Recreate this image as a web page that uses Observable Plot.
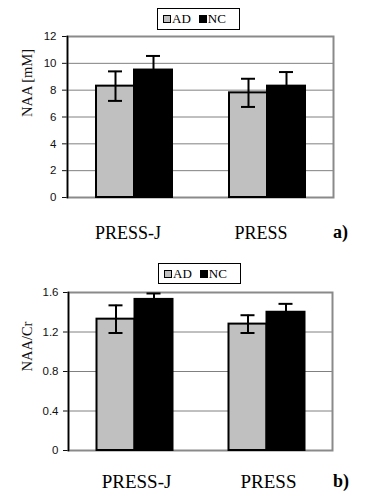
<!DOCTYPE html>
<html>
<head>
<meta charset="utf-8">
<script src="https://cdn.jsdelivr.net/npm/d3@7"></script>
<script src="https://cdn.jsdelivr.net/npm/@observablehq/plot@0.6"></script>
<style>
  body { margin: 0; background: #fff; }
  #wrap { position: relative; width: 372px; height: 496px; background: #fff; overflow: hidden; }
  .legend { position: absolute; box-sizing: border-box; border: 1px solid #000; background: #fff;
            font-family: 'Liberation Serif', 'Times New Roman', serif; font-size: 13px; color: #000;
            display: flex; align-items: center; padding-left: 5px; }
  .sw { display: inline-block; width: 6px; height: 6px; border: 1px solid #000; margin-right: 1px; }
  .panel { position: absolute; font-family: 'Liberation Serif', 'Times New Roman', serif; font-weight: bold;
           font-size: 18px; line-height: 18px; color: #000; }
  .chart { position: absolute; left: 0; }
</style>
</head>
<body>
<div id="wrap"></div>
<script>
// ---- data ----
const categories = ["PRESS-J", "PRESS"];
const groups = ["AD", "NC"];
const groupColors = ["#c0c0c0", "#000000"];

// panel a) NAA [mM]
const naaAD = [8.3, 7.8];
const naaNC = [9.5, 8.3];
const naaADErr = [1.1, 1.05];
const naaNCErr = [1.05, 1.05];
const naaTicks = [0, 2, 4, 6, 8, 10, 12];
const naaTickLabels = ["0", "2", "4", "6", "8", "10", "12"];

// panel b) NAA/Cr
const ratioAD = [1.33, 1.28];
const ratioNC = [1.53, 1.40];
const ratioADErr = [0.14, 0.09];
const ratioNCErr = [0.06, 0.085];
const ratioTicks = [0, 0.4, 0.8, 1.2, 1.6];
const ratioTickLabels = ["0", "0.4", "0.8", "1.2", "1.6"];

const serif = "'Liberation Serif', 'Times New Roman', serif";
const sans = "'Liberation Sans', Arial, sans-serif";
const wrap = document.getElementById("wrap");

function rowsFrom(means, errs) {
  return categories.flatMap((c, i) => groups.map((g, j) => ({cat: c, group: g, value: means[j][i], err: errs[j][i]})));
}

function legend(left, top, w, h) {
  const d = document.createElement("div");
  d.className = "legend";
  Object.assign(d.style, {left: left + "px", top: top + "px", width: w + "px", height: h + "px"});
  groups.forEach((g, i) => {
    const s = document.createElement("span");
    s.className = "sw";
    s.style.background = groupColors[i];
    const t = document.createElement("span");
    t.textContent = g;
    t.style.marginRight = "8px";
    d.appendChild(s); d.appendChild(t);
  });
  wrap.appendChild(d);
}

function panelLabel(text, left, top) {
  const d = document.createElement("div");
  d.className = "panel";
  d.textContent = text;
  d.style.left = left + "px";
  d.style.top = top + "px";
  wrap.appendChild(d);
}

function chart(o) {
  const rows = rowsFrom(o.means, o.errs);
  const p = Plot.plot({
    width: 372, height: o.height,
    marginTop: o.mt, marginBottom: o.mb, marginLeft: o.ml, marginRight: o.mr,
    style: {fontFamily: sans, fontSize: "11.5px", color: "#111", background: "transparent", overflow: "visible"},
    fx: {domain: categories, padding: 0, axis: null},
    x: {domain: groups, paddingInner: 0, paddingOuter: 0.71, axis: null},
    y: {domain: [o.ticks[0], o.ticks[o.ticks.length - 1]], ticks: o.ticks, tickSize: 5, tickPadding: o.tickPadding,
        label: null, tickFormat: d => o.tickLabels[o.ticks.indexOf(d)]},
    color: {domain: groups, range: groupColors},
    marks: [
      Plot.ruleY(o.ticks, {stroke: "#808080", strokeWidth: 1}),
      Plot.frame({facet: "super", stroke: "#8a8a8a", strokeWidth: 2}),
      Plot.frame({facet: "super", anchor: "left", stroke: "#000", strokeWidth: 1.6}),
      Plot.barY(rows, {fx: "cat", x: "group", y: "value", fill: "group", stroke: "#000", strokeWidth: 2}),
      Plot.ruleX(rows, {fx: "cat", x: "group", y1: d => d.value - d.err, y2: d => d.value + d.err, stroke: "#000", strokeWidth: 2}),
      Plot.tickY(rows, {fx: "cat", x: "group", y: d => d.value + d.err, stroke: "#000", strokeWidth: 2, insetLeft: 12, insetRight: 12}),
      Plot.tickY(rows, {fx: "cat", x: "group", y: d => d.value - d.err, stroke: "#000", strokeWidth: 2, insetLeft: 12, insetRight: 12}),
      Plot.text(categories, {fx: d => d, text: d => d, frameAnchor: "bottom", lineAnchor: "bottom",
        dy: o.labelDy, dx: o.labelDx, fontFamily: serif, fontSize: o.labelSize, fill: "#000"}),
      Plot.text([o.yLabel], {fx: () => categories[0], text: d => d, frameAnchor: "left", rotate: -90,
        dx: o.yLabelDx, fontFamily: serif, fontSize: 14.5, fill: "#111"})
    ]
  });
  p.classList.add("chart");
  p.style.top = o.top + "px";
  wrap.appendChild(p);
}

// panel a
legend(157, 8, 83, 22);
chart({means: [naaAD, naaNC], errs: [naaADErr, naaNCErr], ticks: naaTicks, tickLabels: naaTickLabels,
  yLabel: "NAA [mM]", top: 30, height: 215, mt: 6, mb: 48, ml: 66, mr: 39, tickPadding: 6,
  labelDy: 41, labelDx: -6, labelSize: 18, yLabelDx: -40});
panelLabel("a)", 333, 223);

// panel b
legend(158, 263, 83, 21);
chart({means: [ratioAD, ratioNC], errs: [ratioADErr, ratioNCErr], ticks: ratioTicks, tickLabels: ratioTickLabels,
  yLabel: "NAA/Cr", top: 280, height: 215, mt: 12, mb: 45, ml: 67.5, mr: 39, tickPadding: 5,
  labelDy: 37, labelDx: 2, labelSize: 19, yLabelDx: -41.5});
panelLabel("b)", 333, 472);
</script>
</body>
</html>
